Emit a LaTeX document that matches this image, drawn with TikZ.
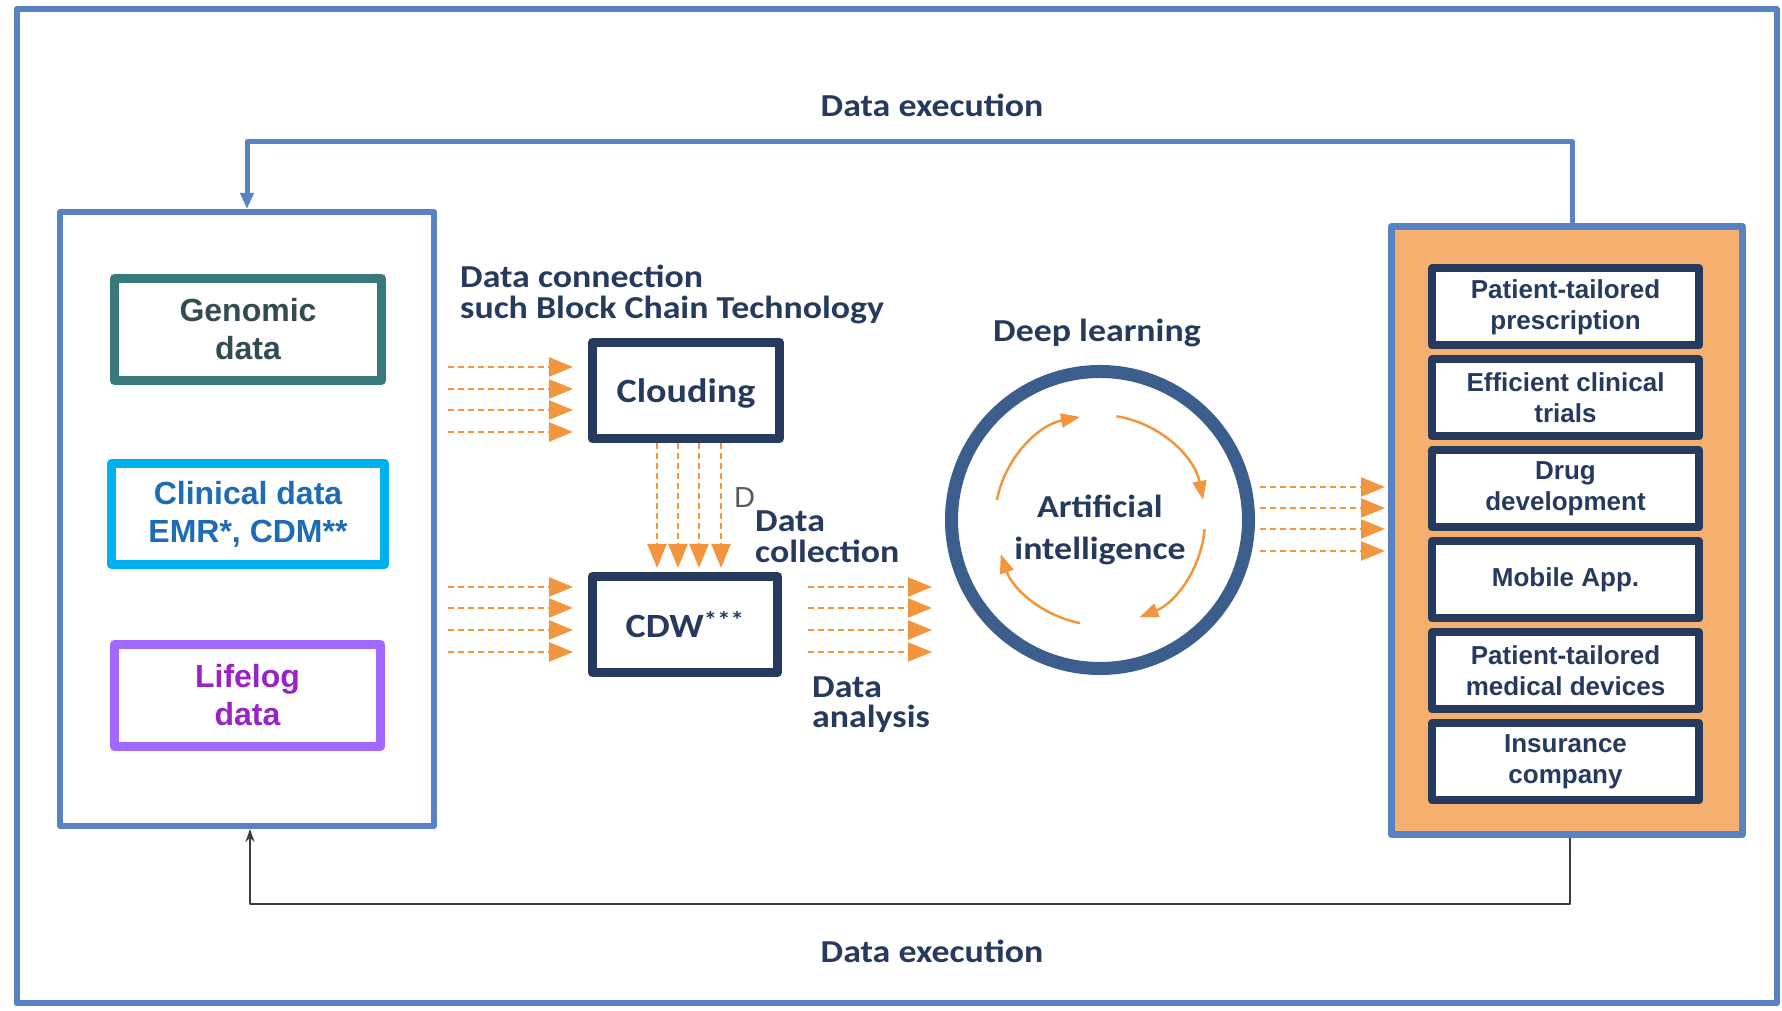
\documentclass[tikz,border=0pt]{standalone}
\usepackage{fontspec}
\setmainfont{Liberation Sans}
\newfontfamily\calfont{Carlito}[FakeStretch=1.12]
\usetikzlibrary{arrows.meta,positioning,calc}

\definecolor{frameblue}{RGB}{88,130,196}
\definecolor{navy}{RGB}{38,58,94}
\definecolor{ringblue}{RGB}{60,94,140}
\definecolor{tealbox}{RGB}{56,122,124}
\definecolor{tealtext}{RGB}{50,76,82}
\definecolor{cyanbox}{RGB}{0,176,240}
\definecolor{clintext}{RGB}{30,108,180}
\definecolor{lilacbox}{RGB}{160,104,255}
\definecolor{lifetext}{RGB}{152,36,200}
\definecolor{peach}{RGB}{245,176,112}
\definecolor{floworange}{RGB}{241,150,62}
\definecolor{darkline}{RGB}{60,60,60}

\tikzset{
  srcbox/.style={draw, line width=9pt, fill=white, inner sep=0pt, align=center,
    font=\bfseries\fontsize{32}{38}\selectfont},
  usebox/.style={draw=navy, line width=8pt, fill=white, minimum width=267pt,
    minimum height=77pt, inner sep=0pt, align=center, text=navy,
    font=\bfseries\fontsize{26}{31}\selectfont},
  hubbox/.style={draw=navy, line width=9pt, fill=white, inner sep=0pt, text=navy,
    font=\calfont\bfseries\fontsize{34}{40}\selectfont},
  midtext/.style={text=navy, inner sep=0pt, font=\calfont\bfseries\fontsize{32}{31}\selectfont},
  feed/.style={draw=floworange, line width=2.5pt, dash pattern=on 6pt off 4pt,
    -{Triangle[length=24pt,width=19pt]}},
  spin/.style={draw=floworange, line width=2.5pt, -{Triangle[length=19pt,width=14pt]}},
}

\begin{document}
\begin{tikzpicture}[x=1pt, y=1pt, line join=round]
    \useasboundingbox (0,0) rectangle (1782,1011);

    % Outer frame
    \draw[frameblue, line width=6pt] (16.5,7.5) rectangle (1776.5,1002);

    % Data sources panel
    \node[draw=frameblue, line width=6pt, fill=white, minimum width=374pt,
      minimum height=614pt] (data) at (247,492) {};
    \node[srcbox, draw=tealbox, text=tealtext, minimum width=267pt,
      minimum height=102pt] (genomic) at (248,681.5) {Genomic\\data};
    \node[srcbox, draw=cyanbox, text=clintext, minimum width=273pt,
      minimum height=101pt] (clinical) at (248,497) {Clinical data\\EMR*, CDM**};
    \node[srcbox, draw=lilacbox, text=lifetext, minimum width=266pt,
      minimum height=102pt] (lifelog) at (247.5,315.5) {Lifelog\\data};

    % Applications panel
    \node[draw=frameblue, line width=7pt, fill=peach, minimum width=351pt,
      minimum height=608pt] (results) at (1567,480.5) {};
    \node[usebox] (rx) at (1565.5,704) {Patient-tailored\\prescription};
    \node[usebox, below=6pt of rx] (trials) {Efficient clinical\\trials};
    \node[usebox, below=6pt of trials] (drug) {Drug\\development};
    \node[usebox, below=6pt of drug] (mobile) {Mobile App.};
    \node[usebox, below=6pt of mobile] (devices) {Patient-tailored\\medical devices};
    \node[usebox, below=6pt of devices] (insure) {Insurance\\company};

    % Clouding and CDW
    \node[hubbox, minimum width=187pt, minimum height=96pt, text depth=0pt]
      (cloud) at (686,620.5) {Clouding};
    \node[hubbox, minimum width=185pt, minimum height=96pt]
      (cdw) at (685,386.5) {CDW\textsuperscript{***}};

    % base anchor = baseline of the last line
    \node[midtext, anchor=base west, align=left] (chain) at (460,692)
      {Data connection\\such Block Chain Technology};
    \node[anchor=base west, inner sep=0pt, text=darkline!85,
      font=\fontsize{29}{34}\selectfont] (dmark) at (734,503) {D};
    \node[midtext, anchor=base west, align=left] (collect) at (755,448)
      {Data\\collection};
    \node[midtext, anchor=base west, align=left, font=\calfont\bfseries\fontsize{32}{30}\selectfont]
      (analysis) at (812,283) {Data\\analysis};

    % Artificial intelligence ring
    \node[circle, draw=ringblue, line width=13pt, minimum size=297pt,
      inner sep=0pt] (ai) at (1100,491) {};
    \node[midtext, anchor=base] (deep) at (1097,669) {Deep learning};
    \node[midtext, anchor=base, align=center,
      font=\calfont\bfseries\fontsize{32}{42}\selectfont] (aitext) at (1100,451.7)
      {Artificial\\intelligence};

    \draw[spin] ($(ai.center)+(169:105)$) arc[start angle=169, end angle=101, radius=105];
    \draw[spin] ($(ai.center)+(81:105)$) arc[start angle=81, end angle=11, radius=105];
    \draw[spin] ($(ai.center)+(-5:105)$) arc[start angle=-5, end angle=-68, radius=105];
    \draw[spin] ($(ai.center)+(-101:105)$) arc[start angle=-101, end angle=-161, radius=105];

    % Dashed data flows
    \foreach \y in {644,622,601,579}
      \draw[feed] ($(data.east |- 0,\y)+(11,0)$) -- ($(cloud.west |- 0,\y)+(-15,0)$);
    \foreach \y in {424,403,381,359} {
      \draw[feed] ($(data.east |- 0,\y)+(11,0)$) -- ($(cdw.west |- 0,\y)+(-15,0)$);
      \draw[feed] ($(cdw.east |- 0,\y)+(26,0)$) -- ($(ai.west |- 0,\y)+(-13,0)$);
    }
    \foreach \x in {657,678,699,721}
      \draw[feed] (cloud.south -| \x,0) -- ($(cdw.north -| \x,0)+(0,4)$);
    \foreach \y in {524,503,482,460}
      \draw[feed] ($(ai.east |- 0,\y)+(5,0)$) -- ($(results.west |- 0,\y)+(-3,0)$);

    % Data execution loops
    \draw[frameblue, line width=5pt, -{Triangle[length=16pt,width=13pt]}]
      ([xshift=5pt]results.north) -- ++(0,81) -| (data.north);
    \draw[darkline, line width=2pt, -{Stealth[length=13pt,width=9pt]}]
      ([xshift=3pt]results.south) -- ++(0,-66) -| ([xshift=3pt]data.south);
    \node[midtext, anchor=base] (topexec) at (932,894.5) {Data execution};
    \node[midtext, anchor=base] (botexec) at (932,48) {Data execution};

\end{tikzpicture}
\end{document}
